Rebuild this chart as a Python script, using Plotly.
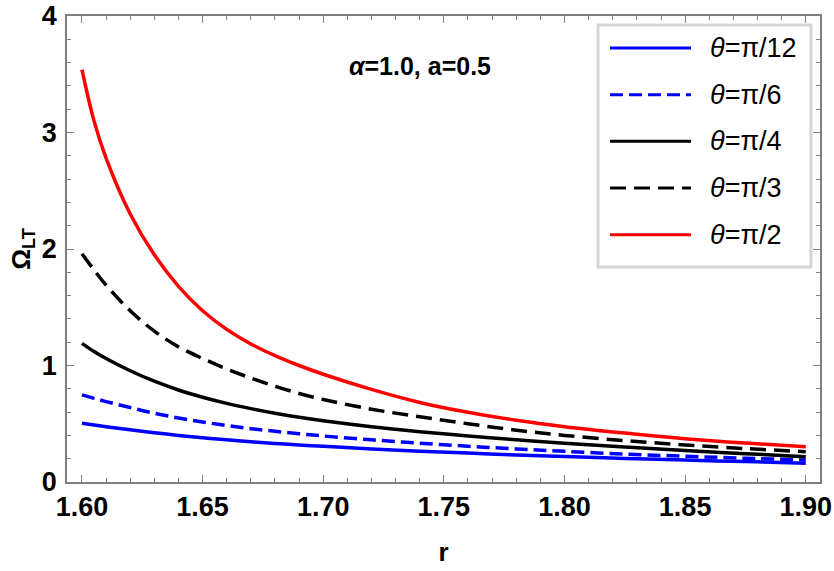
import plotly.graph_objects as go

# ---- data ----
r = [1.600, 1.605, 1.610, 1.620, 1.630, 1.640, 1.650, 1.660, 1.670, 1.680, 1.690,
     1.700, 1.720, 1.740, 1.760, 1.780, 1.800, 1.825, 1.850, 1.875, 1.900]

omega_pi12 = [0.505, 0.490, 0.475, 0.448, 0.423, 0.400, 0.380, 0.362, 0.346, 0.331, 0.318,
              0.306, 0.284, 0.265, 0.248, 0.232, 0.218, 0.202, 0.188, 0.175, 0.162]
omega_pi6 = [0.748, 0.718, 0.690, 0.640, 0.590, 0.550, 0.515, 0.485, 0.458, 0.435, 0.414,
             0.395, 0.362, 0.333, 0.307, 0.284, 0.263, 0.240, 0.221, 0.204, 0.189]
omega_pi4 = [1.190, 1.120, 1.060, 0.955, 0.865, 0.790, 0.728, 0.675, 0.630, 0.590, 0.555,
             0.525, 0.474, 0.432, 0.395, 0.362, 0.333, 0.300, 0.271, 0.243, 0.217]
omega_pi3 = [1.960, 1.820, 1.690, 1.470, 1.295, 1.160, 1.060, 0.970, 0.892, 0.822, 0.760,
             0.708, 0.625, 0.560, 0.500, 0.445, 0.400, 0.355, 0.318, 0.287, 0.260]
omega_pi2 = [3.540, 3.100, 2.780, 2.300, 1.950, 1.680, 1.470, 1.310, 1.185, 1.085, 1.000,
             0.925, 0.795, 0.683, 0.598, 0.530, 0.475, 0.420, 0.372, 0.334, 0.302]

series_names = ["θ=π/12", "θ=π/6", "θ=π/4", "θ=π/3", "θ=π/2"]
series_values = [omega_pi12, omega_pi6, omega_pi4, omega_pi3, omega_pi2]
series_colors = ["#0000FF", "#0000FF", "#000000", "#000000", "#FF0000"]
series_dash = ["solid", "13px,6px", "solid", "16px,8px", "solid"]

x_ticks = [1.60, 1.65, 1.70, 1.75, 1.80, 1.85, 1.90]
x_ticktext = ["1.60", "1.65", "1.70", "1.75", "1.80", "1.85", "1.90"]
y_ticks = [0, 1, 2, 3, 4]

FONT = "Arial, 'Liberation Sans', sans-serif"
W, H = 834, 571
ML, MR, MT, MB = 67, 14, 16, 89
PW, PH = W - ML - MR, H - MT - MB

def px(xp):
    return (xp - ML) / PW

def py(yp):
    return (H - MB - yp) / PH

fig = go.Figure()
for name, vals, col, dash in zip(series_names, series_values, series_colors, series_dash):
    fig.add_trace(go.Scatter(x=r, y=vals, mode="lines", name=name, showlegend=False,
                             line=dict(color=col, width=3.5, dash=dash, shape="spline", smoothing=1.0)))

axis_common = dict(showline=True, linecolor="#7f7f7f", linewidth=1.5, mirror="ticks",
                   ticks="inside", tickcolor="#7f7f7f", tickwidth=1.2, ticklen=7,
                   showgrid=False, zeroline=False, automargin=False,
                   tickfont=dict(family=FONT, size=27, color="black", weight="bold"))

fig.update_xaxes(range=[1.5938, 1.9059], tickvals=x_ticks, ticktext=x_ticktext,
                 minor=dict(dtick=0.01, tick0=1.6, ticks="inside", ticklen=4, tickcolor="#7f7f7f", tickwidth=1),
                 title=dict(text="<b>r</b>", font=dict(family=FONT, size=26, color="black"), standoff=22),
                 ticklabelstandoff=0,
                 **axis_common)
fig.update_yaxes(range=[0, 4], tickvals=y_ticks,
                 minor=dict(dtick=0.2, tick0=0, ticks="inside", ticklen=4, tickcolor="#7f7f7f", tickwidth=1),
                 title=dict(text="<b>Ω<sub>LT</sub></b>", font=dict(family=FONT, size=26, color="black"), standoff=4),
                 ticklabelstandoff=3,
                 **axis_common)

# annotation
fig.add_annotation(x=1.7402, y=3.57, xref="x", yref="y", showarrow=False,
                   text="<b><i>α</i>=1.0, a=0.5</b>",
                   font=dict(family=FONT, size=25, color="black"))

# manual legend
shapes = [dict(type="rect", xref="paper", yref="paper", x0=px(598), x1=px(811), y0=py(267), y1=py(25),
               line=dict(color="#d6d6d6", width=3), fillcolor="white", layer="above")]
row_y = [48, 94.7, 141.3, 188, 234.7]
for yy, name, col, dash in zip(row_y, series_names, series_colors, series_dash):
    shapes.append(dict(type="line", xref="paper", yref="paper", x0=px(610), x1=px(691), y0=py(yy), y1=py(yy),
                       line=dict(color=col, width=3, dash=dash), layer="above"))
    fig.add_annotation(x=px(708), y=py(yy), xref="paper", yref="paper", xanchor="left", yanchor="middle",
                       showarrow=False, text=name.replace("θ", "<i>θ</i>"),
                       font=dict(family=FONT, size=27, color="black"))

fig.update_layout(width=W, height=H, margin=dict(l=ML, r=MR, t=MT, b=MB, autoexpand=False),
                  plot_bgcolor="white", paper_bgcolor="white", shapes=shapes,
                  font=dict(family=FONT))

fig.write_html("out.html")
